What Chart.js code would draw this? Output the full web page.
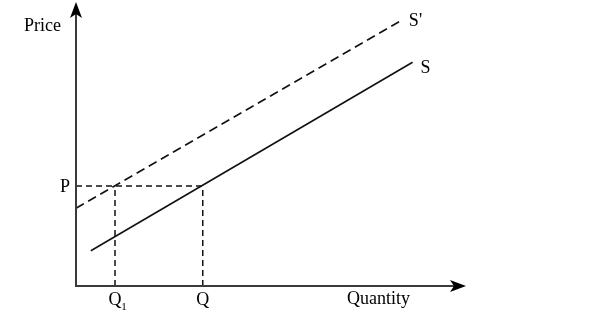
<!DOCTYPE html>
<html>
<head>
<meta charset="utf-8">
<script src="https://cdn.jsdelivr.net/npm/chart.js@4"></script>
<style>
  html, body { margin: 0; padding: 0; background: #fff; }
  #wrap { width: 604px; height: 327px; }
</style>
</head>
<body>
<div id="wrap"><canvas id="myChart" width="604" height="327"></canvas></div>
<script>
// quantities and price marked on the axes
var quantityTicks = [1.0, 3.25],
  quantityTickLabels = ['Q', 'Q'],
  quantityTickSubs = ['1', ''],
  priceLevel = 3.52,
  priceTickLabel = 'P'

// supply curves (endpoints)
var supplyX = [0.38, 8.63],
  supplyY = [1.24, 7.88],
  supplyShiftX = [0.0, 8.33],
  supplyShiftY = [2.74, 9.34]

var axisMax = 10
var serif = '"Liberation Serif", "Times New Roman", serif'

function pts(xs, ys) {
  return xs.map((x, i) => ({ x: x, y: ys[i] }))
}

// axes with arrow heads + text labels
const diagramPlugin = {
  id: 'diagram',
  afterDatasetsDraw(chart) {
    const ctx = chart.ctx
    const xs = chart.scales.x, ys = chart.scales.y
    const x0 = xs.getPixelForValue(0), y0 = ys.getPixelForValue(0)
    const xEnd = xs.getPixelForValue(axisMax), yEnd = ys.getPixelForValue(axisMax)
    ctx.save()
    ctx.strokeStyle = '#3a3a3a'
    ctx.lineWidth = 2
    ctx.beginPath()
    ctx.moveTo(x0, y0)
    ctx.lineTo(x0, yEnd + 10)
    ctx.moveTo(x0 - 1, y0)
    ctx.lineTo(xEnd - 10, y0)
    ctx.stroke()

    ctx.fillStyle = '#000'
    // up arrow
    ctx.beginPath()
    ctx.moveTo(x0, yEnd)
    ctx.lineTo(x0 + 6, yEnd + 16)
    ctx.lineTo(x0, yEnd + 12)
    ctx.lineTo(x0 - 6, yEnd + 16)
    ctx.closePath()
    ctx.fill()
    // right arrow
    ctx.beginPath()
    ctx.moveTo(xEnd, y0)
    ctx.lineTo(xEnd - 16, y0 - 6)
    ctx.lineTo(xEnd - 12, y0)
    ctx.lineTo(xEnd - 16, y0 + 6)
    ctx.closePath()
    ctx.fill()

    ctx.font = '18px ' + serif
    ctx.textBaseline = 'alphabetic'
    ctx.textAlign = 'right'
    ctx.fillText('Price', x0 - 15, yEnd + 29)
    ctx.fillText(priceTickLabel, x0 - 6, ys.getPixelForValue(priceLevel) + 6)

    ctx.textAlign = 'center'
    quantityTicks.forEach((q, i) => {
      const px = xs.getPixelForValue(q)
      ctx.font = '18px ' + serif
      ctx.fillText(quantityTickLabels[i], px, y0 + 19)
      if (quantityTickSubs[i]) {
        ctx.font = '11px ' + serif
        ctx.fillText(quantityTickSubs[i], px + 9, y0 + 24)
      }
    })

    ctx.font = '18px ' + serif
    ctx.textAlign = 'left'
    ctx.fillText('Quantity', xs.getPixelForValue(6.95), y0 + 18)
    ctx.fillText("S'", xs.getPixelForValue(supplyShiftX[1]) + 8, ys.getPixelForValue(supplyShiftY[1]) + 5)
    ctx.fillText('S', xs.getPixelForValue(supplyX[1]) + 8, ys.getPixelForValue(supplyY[1]) + 11)
    ctx.restore()
  },
}

let ctx = document.getElementById('myChart').getContext('2d')
let myChart = new Chart(ctx, {
  type: 'scatter',
  data: {
    datasets: [
      {
        label: 'S',
        data: pts(supplyX, supplyY),
        showLine: true,
        borderColor: '#111',
        borderWidth: 1.6,
        pointRadius: 0,
      },
      {
        label: "S'",
        data: pts(supplyShiftX, supplyShiftY),
        showLine: true,
        borderColor: '#111',
        borderWidth: 1.6,
        borderDash: [9, 5],
        pointRadius: 0,
      },
      {
        label: 'P guide',
        data: pts([0, quantityTicks[1]], [priceLevel, priceLevel]),
        showLine: true,
        borderColor: '#111',
        borderWidth: 1.5,
        borderDash: [6, 4],
        pointRadius: 0,
      },
      {
        label: 'Q1 guide',
        data: pts([quantityTicks[0], quantityTicks[0]], [0, priceLevel]),
        showLine: true,
        borderColor: '#111',
        borderWidth: 1.5,
        borderDash: [6, 4],
        pointRadius: 0,
      },
      {
        label: 'Q guide',
        data: pts([quantityTicks[1], quantityTicks[1]], [0, priceLevel]),
        showLine: true,
        borderColor: '#111',
        borderWidth: 1.5,
        borderDash: [6, 4],
        pointRadius: 0,
      },
    ],
  },
  options: {
    responsive: false,
    animation: false,
    layout: {
      padding: { left: 76, right: 138, top: 2, bottom: 41 },
    },
    plugins: {
      legend: { display: false },
      tooltip: { enabled: false },
    },
    scales: {
      x: { type: 'linear', min: 0, max: axisMax, display: false },
      y: { type: 'linear', min: 0, max: axisMax, display: false },
    },
  },
  plugins: [diagramPlugin],
})
</script>
</body>
</html>
